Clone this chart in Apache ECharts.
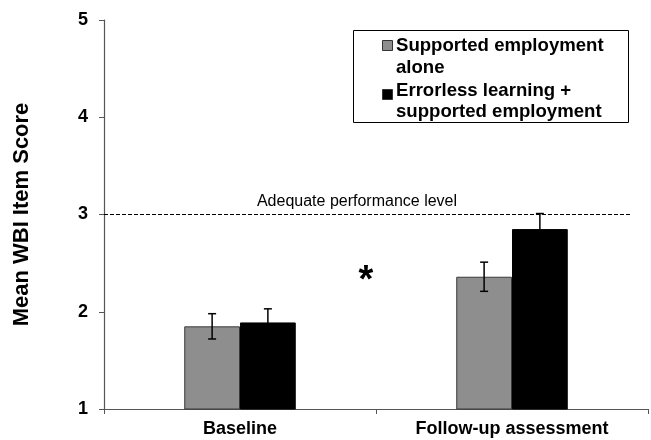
<!DOCTYPE html>
<html>
<head>
<meta charset="utf-8">
<script src="https://cdn.jsdelivr.net/npm/echarts@6/dist/echarts.min.js"></script>
<style>
  html, body { margin: 0; padding: 0; background: #fff; }
  #chart { width: 651px; height: 440px; }
</style>
</head>
<body>
<div id="chart"></div>
<script>
// Mean WBI item score by assessment point and group
const categories = ['Baseline', 'Follow-up assessment'];
const seriesNames = ['Supported employment\nalone', 'Errorless learning +\nsupported employment'];
const supportedAlone = [1.85, 2.36];
const errorlessPlus = [1.89, 2.85];
const supportedAloneErr = [0.13, 0.15];
const errorlessPlusErr = [0.14, 0.16];
const yTicks = [1, 2, 3, 4, 5];
const adequateLevel = 3;

const barColors = ['#8e8e8e', '#000000'];
const barBorders = ['#3a3a3a', '#000000'];
const categoryGap = 0.59;
const FONT = 'Liberation Sans, Arial, sans-serif';

const chart = echarts.init(document.getElementById('chart'));

// Error bars drawn at the centre of each bar in a two-bar group
function errorSeries(values, errs, index) {
  return {
    type: 'custom',
    z: 5,
    data: values.map((v, i) => [i, v - errs[i], v + errs[i]]),
    renderItem: function (params, api) {
      const band = api.size([1, 0])[0];
      const barW = band * (1 - categoryGap) / 2;
      const dx = (index === 0 ? -0.5 : 0.5) * barW;
      const lo = api.coord([api.value(0), api.value(1)]);
      const hi = api.coord([api.value(0), api.value(2)]);
      const x = lo[0] + dx;
      const cap = 4;
      const style = { stroke: '#000', lineWidth: 1.5 };
      return {
        type: 'group',
        children: [
          { type: 'line', shape: { x1: x, y1: lo[1], x2: x, y2: hi[1] }, style },
          { type: 'line', shape: { x1: x - cap, y1: hi[1], x2: x + cap, y2: hi[1] }, style },
          { type: 'line', shape: { x1: x - cap, y1: lo[1], x2: x + cap, y2: lo[1] }, style }
        ]
      };
    }
  };
}

// Boxed legend on the upper right
const legendItems = [];
const legendLineTops = [[36, 58], [81, 102]];
const legendSwatchTops = [40, 89];
seriesNames.forEach((name, i) => {
  legendItems.push({
    type: 'rect',
    z: 12,
    shape: { x: 382.5, y: legendSwatchTops[i] + 0.5, width: 10, height: 10 },
    style: { fill: barColors[i], stroke: '#333', lineWidth: 1 }
  });
  name.split('\n').forEach((line, j) => {
    legendItems.push({
      type: 'text',
      z: 12,
      x: 396,
      y: legendLineTops[i][j],
      style: {
        text: line,
        fontFamily: FONT,
        fontWeight: 'bold',
        fontSize: 18.6,
        fill: '#000',
        verticalAlign: 'top'
      }
    });
  });
});

chart.setOption({
  animation: false,
  backgroundColor: '#fff',
  grid: { left: 104, right: 3, top: 20, bottom: 31 },
  xAxis: {
    type: 'category',
    data: categories,
    axisLine: { lineStyle: { color: '#555', width: 1.2 } },
    axisTick: { show: true, length: 5, lineStyle: { color: '#555' } },
    axisLabel: { color: '#000', fontFamily: FONT, fontWeight: 'bold', fontSize: 18, margin: 11 }
  },
  yAxis: {
    type: 'value',
    min: yTicks[0],
    max: yTicks[yTicks.length - 1],
    interval: 1,
    name: 'Mean WBI Item Score',
    nameLocation: 'middle',
    nameRotate: 90,
    nameGap: 71,
    nameTextStyle: { color: '#000', fontFamily: FONT, fontWeight: 'bold', fontSize: 22 },
    axisLine: { show: true, lineStyle: { color: '#555', width: 1.2 } },
    axisTick: { show: true, length: 5, lineStyle: { color: '#555' } },
    splitLine: { show: false },
    axisLabel: { color: '#000', fontFamily: FONT, fontWeight: 'bold', fontSize: 18, margin: 16 }
  },
  series: [
    {
      name: seriesNames[0],
      type: 'bar',
      data: supportedAlone,
      barGap: '0%',
      barCategoryGap: (categoryGap * 100) + '%',
      itemStyle: { color: barColors[0], borderColor: barBorders[0], borderWidth: 1 },
      markLine: {
        silent: true,
        symbol: 'none',
        lineStyle: { color: '#000', type: [4, 2], width: 1.2 },
        label: {
          show: true,
          position: 'insideMiddleTop',
          formatter: 'Adequate performance level',
          color: '#000',
          fontFamily: FONT,
          fontSize: 16,
          distance: 5,
          padding: [0, 22, 0, 0]
        },
        data: [[
          { yAxis: adequateLevel, x: 104 },
          { yAxis: adequateLevel, x: 632 }
        ]]
      }
    },
    {
      name: seriesNames[1],
      type: 'bar',
      data: errorlessPlus,
      barGap: '0%',
      barCategoryGap: (categoryGap * 100) + '%',
      itemStyle: { color: barColors[1], borderColor: barBorders[1], borderWidth: 1 }
    },
    errorSeries(supportedAlone, supportedAloneErr, 0),
    errorSeries(errorlessPlus, errorlessPlusErr, 1)
  ],
  graphic: [
    {
      type: 'rect',
      shape: { x: 353.5, y: 30.5, width: 275, height: 92 },
      style: { fill: 'none', stroke: '#000', lineWidth: 1 },
      z: 10
    },
    { type: 'group', z: 11, children: legendItems },
    {
      type: 'text',
      z: 11,
      x: 366,
      y: 263,
      style: {
        text: '*',
        fontFamily: FONT,
        fontWeight: 'bold',
        fontSize: 38,
        fill: '#000',
        align: 'center',
        verticalAlign: 'top'
      }
    }
  ]
});
</script>
</body>
</html>
